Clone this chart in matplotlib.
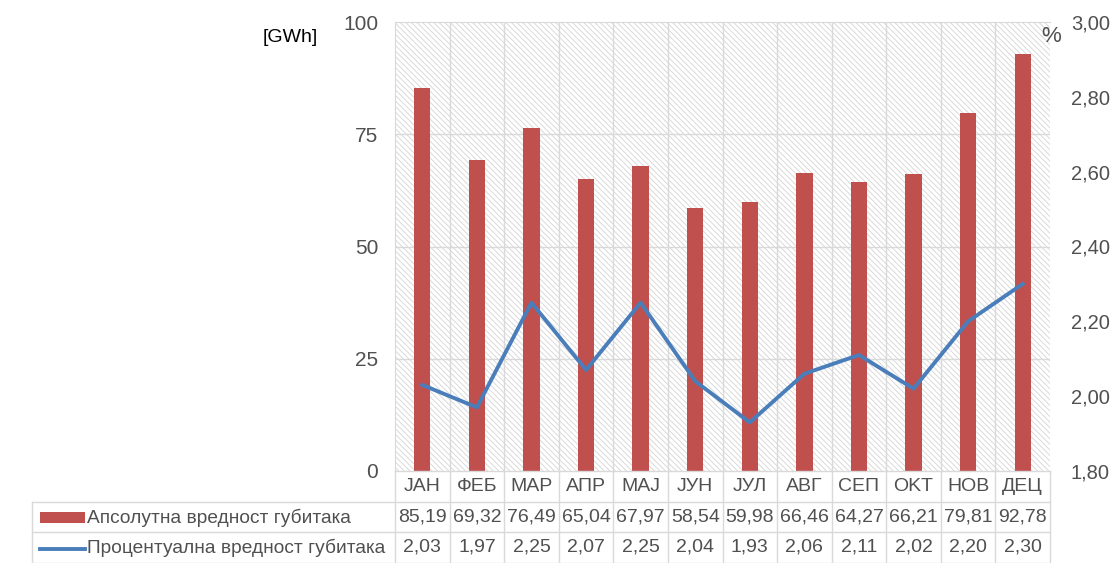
import numpy as np
import matplotlib
matplotlib.use("Agg")
import matplotlib.pyplot as plt
from matplotlib.patches import Rectangle
from matplotlib.lines import Line2D

plt.rcParams['font.family'] = ['Liberation Sans', 'DejaVu Sans']
plt.rcParams['hatch.linewidth'] = 0.6
plt.rcParams['hatch.color'] = '#d4d4d4'

# месечни губици
months = ["JAH", "ФЕБ", "MAP", "AПP", "MAJ", "JУH", "JУЛ", "ABГ", "CEП", "OKT", "HOB", "ДEЦ"]
abs_loss = [85.19, 69.32, 76.49, 65.04, 67.97, 58.54, 59.98, 66.46, 64.27, 66.21, 79.81, 92.78]
pct_loss = [2.03, 1.97, 2.25, 2.07, 2.25, 2.04, 1.93, 2.06, 2.11, 2.02, 2.20, 2.30]
bar_label = "Апсолутна вредност губитака"
line_label = "Процентуална вредност губитака"

left_ticks = [0, 25, 50, 75, 100]
right_ticks = [1.80, 2.00, 2.20, 2.40, 2.60, 2.80, 3.00]

BAR_C = '#c0504d'
LINE_C = '#4a7ebb'
TXT_C = '#505050'
GRID_C = '#d9d9d9'

W, H = 1117, 563
fig = plt.figure(figsize=(W / 100, H / 100), dpi=100)
ax = fig.add_axes([395 / W, 1 - 471 / H, (1050 - 395) / W, (471 - 22) / H])
ax2 = ax.twinx()

x = np.arange(len(months))
n = len(months)

# шрафирана позадина
ax.add_patch(Rectangle((0, 0), 1, 1, transform=ax.transAxes, facecolor='white',
                       edgecolor='#d4d4d4', hatch='\\' * 6, lw=0, zorder=0))
for v in left_ticks[1:-1]:
    ax.axhline(v, color=GRID_C, lw=1.0, zorder=1)
for b in np.arange(-0.5, n, 1.0)[1:-1]:
    ax.axvline(b, color=GRID_C, lw=1.0, zorder=1)

ax.bar(x, abs_loss, width=0.3, color=BAR_C, zorder=3)
ax.set_xlim(-0.5, n - 0.5)
ax.set_ylim(0, 100)
ax.set_yticks(left_ticks)
ax.set_xticks([])
ax.tick_params(axis='y', length=0, pad=12, labelsize=15, labelcolor=TXT_C)

ax2.plot(x, pct_loss, color=LINE_C, lw=2.8, zorder=4)
ax2.set_ylim(1.80, 3.00)
ax2.set_yticks(right_ticks)
ax2.set_yticklabels([f"{v:.2f}".replace('.', ',') for v in right_ticks])
ax2.tick_params(axis='y', length=0, pad=15, labelsize=14.5, labelcolor=TXT_C)

for a in (ax, ax2):
    for s in a.spines.values():
        s.set_visible(False)
ax.spines['top'].set_visible(True)
ax.spines['left'].set_visible(True)
ax.spines['top'].set_color(GRID_C)
ax.spines['left'].set_color(GRID_C)

fig.text(290 / W, 1 - 38 / H, "[GWh]", ha='center', va='center', fontsize=14, color='#000000')
fig.text(1051 / W, 1 - 37 / H, "%", ha='center', va='center', fontsize=16, color=TXT_C)

# табела испод графика
tr = ax.get_xaxis_transform()
row_h = 30.5 / 449
rows = [0, -row_h, -2 * row_h, -3 * row_h]
left_fig = 32 / W
ax_left, ax_w = 395 / W, (1050 - 395) / W
left_ax = (left_fig - ax_left) / ax_w

def add_line(xs, ys, transform):
    fig.add_artist(Line2D(xs, ys, transform=transform, color=GRID_C, lw=1.0, clip_on=False))

add_line([-0.5, n - 0.5], [0, 0], tr)
for y in rows[1:]:
    add_line([left_ax, 1], [y, y], ax.transAxes)
for b in np.arange(-0.5, n, 1.0):
    add_line([b, b], [0, rows[-1]], tr)
add_line([left_ax, left_ax], [rows[1], rows[-1]], ax.transAxes)

for i in range(n):
    ax.text(x[i], (rows[0] + rows[1]) / 2, months[i], transform=tr, ha='center', va='center',
            fontsize=14, color=TXT_C, clip_on=False)
    ax.text(x[i], (rows[1] + rows[2]) / 2, f"{abs_loss[i]:.2f}".replace('.', ','), transform=tr,
            ha='center', va='center', fontsize=14, color=TXT_C, clip_on=False)
    ax.text(x[i], (rows[2] + rows[3]) / 2, f"{pct_loss[i]:.2f}".replace('.', ','), transform=tr,
            ha='center', va='center', fontsize=14, color=TXT_C, clip_on=False)

fig.add_artist(Rectangle((40 / W, 1 - 523 / H), 45 / W, 11 / H, color=BAR_C, lw=0))
fig.add_artist(Line2D([40 / W, 85 / W], [1 - 549 / H] * 2, color=LINE_C, lw=2.8))
fig.text(87 / W, 1 - 518 / H, bar_label, ha='left', va='center', fontsize=13.8, color=TXT_C)
fig.text(87 / W, 1 - 548 / H, line_label, ha='left', va='center', fontsize=13.8, color=TXT_C)

fig.savefig("out.png", dpi=100, facecolor='white')
